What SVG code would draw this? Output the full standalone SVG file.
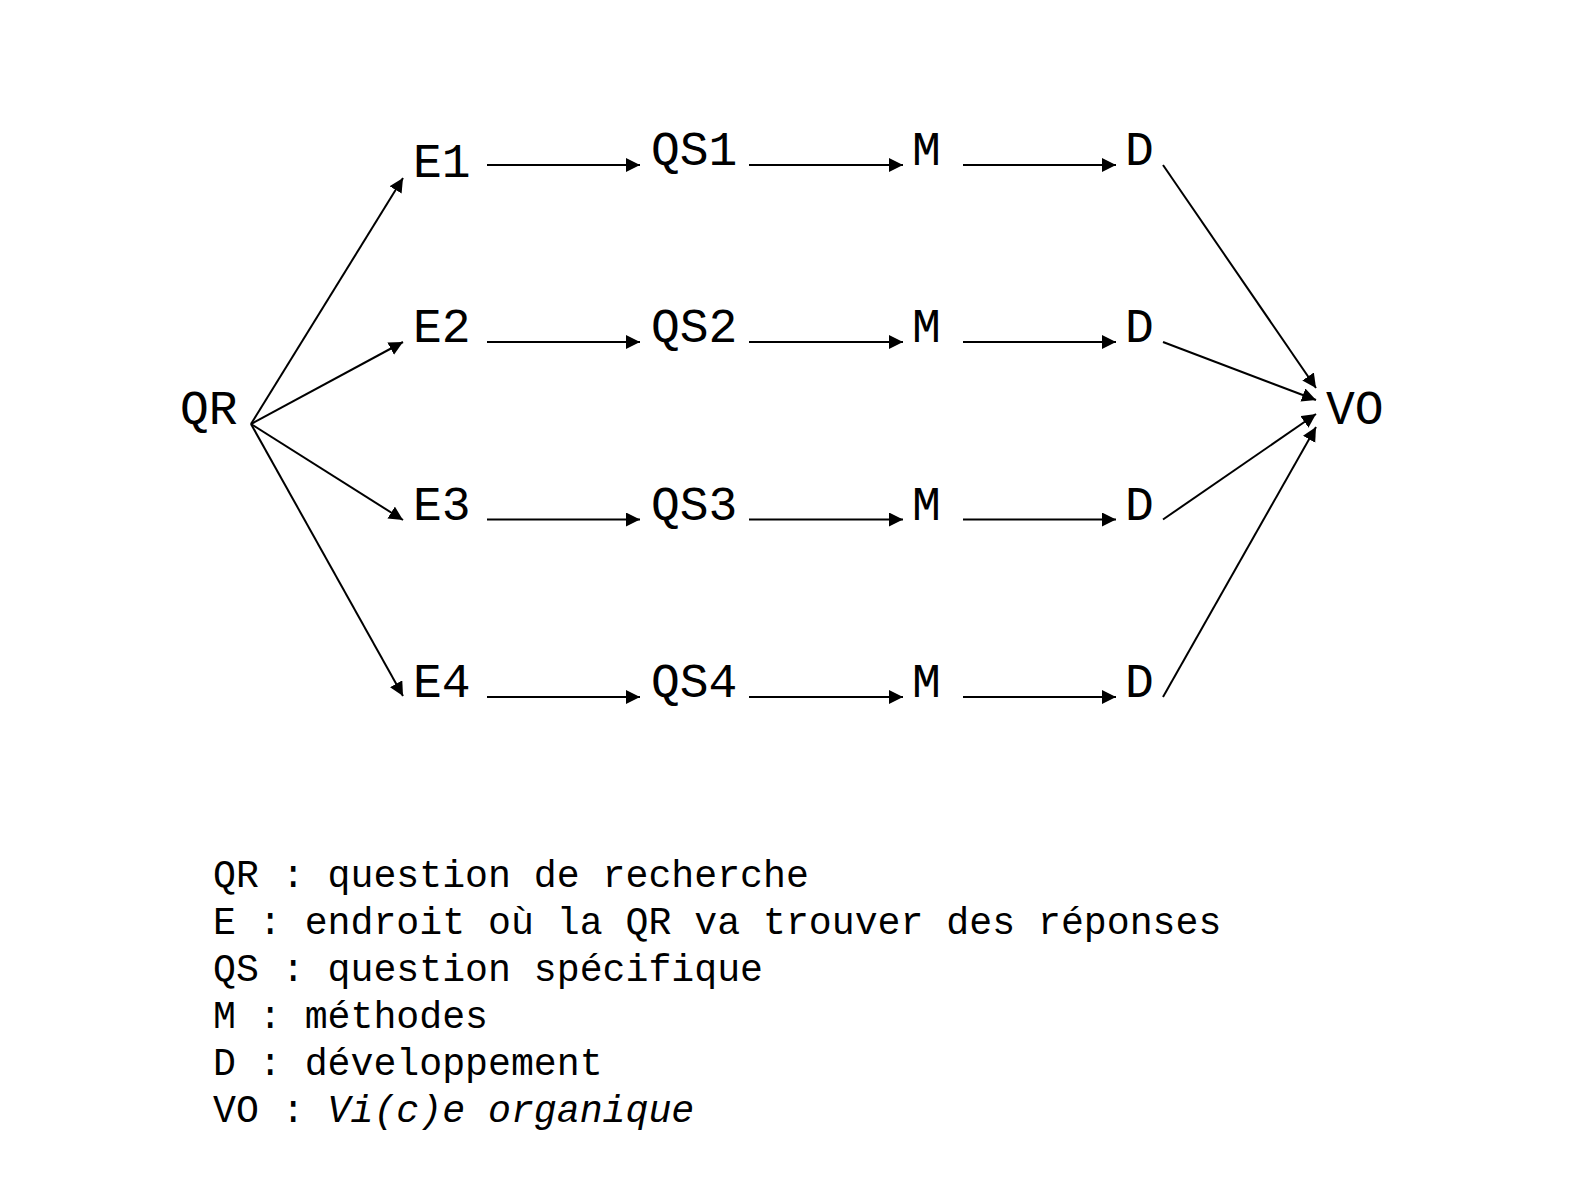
<svg xmlns="http://www.w3.org/2000/svg" width="1585" height="1181" viewBox="0 0 1585 1181">
<style>
.lbl{font-family:"Liberation Mono","DejaVu Sans Mono",monospace;font-size:48px;fill:#000}
.leg{font-family:"Liberation Mono","DejaVu Sans Mono",monospace;font-size:38.2px;fill:#000}
.c line{stroke:#000;stroke-width:2;fill:none;marker-end:url(#ah)}
</style>
<defs>
<marker id="ah" markerUnits="userSpaceOnUse" markerWidth="16" markerHeight="16" refX="14" refY="7" orient="auto">
<path d="M0,0 L14,7 L0,14 Z" fill="#000"/>
</marker>
</defs>
<rect width="1585" height="1181" fill="#fff"/>
<g class="c" id="connectors">
<line x1="251" y1="424" x2="403" y2="178"/>
<line x1="251" y1="424" x2="403" y2="342"/>
<line x1="251" y1="424" x2="403" y2="520"/>
<line x1="251" y1="424" x2="403" y2="696"/>
<line x1="487" y1="165" x2="640" y2="165"/>
<line x1="749" y1="165" x2="903" y2="165"/>
<line x1="963" y1="165" x2="1116" y2="165"/>
<line x1="487" y1="342" x2="640" y2="342"/>
<line x1="749" y1="342" x2="903" y2="342"/>
<line x1="963" y1="342" x2="1116" y2="342"/>
<line x1="487" y1="519.5" x2="640" y2="519.5"/>
<line x1="749" y1="519.5" x2="903" y2="519.5"/>
<line x1="963" y1="519.5" x2="1116" y2="519.5"/>
<line x1="487" y1="697" x2="640" y2="697"/>
<line x1="749" y1="697" x2="903" y2="697"/>
<line x1="963" y1="697" x2="1116" y2="697"/>
<line x1="1163" y1="165" x2="1316" y2="388"/>
<line x1="1163" y1="342" x2="1316" y2="400"/>
<line x1="1163" y1="519.5" x2="1316" y2="414"/>
<line x1="1163" y1="697" x2="1316" y2="427"/>
</g>
<g id="QR"><text class="lbl" x="180" y="424">QR</text></g>
<g id="E1"><text class="lbl" x="413" y="177">E1</text></g>
<g id="E2"><text class="lbl" x="413" y="342">E2</text></g>
<g id="E3"><text class="lbl" x="413" y="520">E3</text></g>
<g id="E4"><text class="lbl" x="413" y="697">E4</text></g>
<g id="QS1"><text class="lbl" x="651" y="165">QS1</text></g>
<g id="QS2"><text class="lbl" x="651" y="342">QS2</text></g>
<g id="QS3"><text class="lbl" x="651" y="520">QS3</text></g>
<g id="QS4"><text class="lbl" x="651" y="697">QS4</text></g>
<g id="M1"><text class="lbl" x="912" y="165">M</text></g>
<g id="M2"><text class="lbl" x="912" y="342">M</text></g>
<g id="M3"><text class="lbl" x="912" y="520">M</text></g>
<g id="M4"><text class="lbl" x="912" y="697">M</text></g>
<g id="D1"><text class="lbl" x="1125" y="165">D</text></g>
<g id="D2"><text class="lbl" x="1125" y="342">D</text></g>
<g id="D3"><text class="lbl" x="1125" y="520">D</text></g>
<g id="D4"><text class="lbl" x="1125" y="697">D</text></g>
<g id="VO"><text class="lbl" x="1326" y="424">VO</text></g>
<g id="legend">
<text class="leg" x="213" y="887">QR : question de recherche</text>
<text class="leg" x="213" y="934">E : endroit où la QR va trouver des réponses</text>
<text class="leg" x="213" y="981">QS : question spécifique</text>
<text class="leg" x="213" y="1028">M : méthodes</text>
<text class="leg" x="213" y="1075">D : développement</text>
<text class="leg" x="213" y="1122">VO : <tspan font-style="italic">Vi(c)e organique</tspan></text>
</g>
</svg>
